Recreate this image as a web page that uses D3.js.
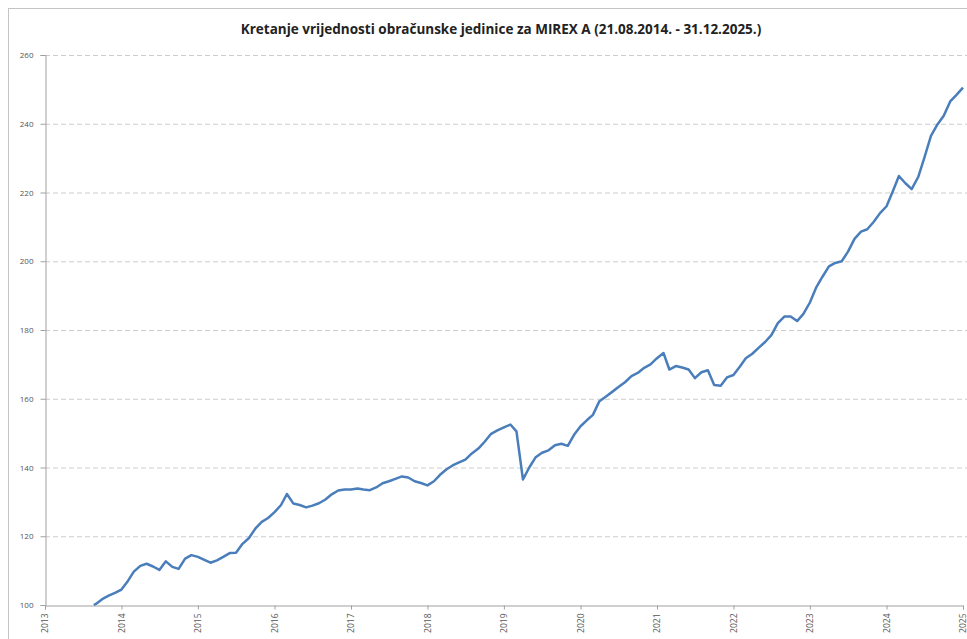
<!DOCTYPE html>
<html><head><meta charset="utf-8">
<script src="https://cdn.jsdelivr.net/npm/d3@7"></script>
<style>body{margin:0;background:#fff}svg{display:block}</style>
</head><body>
<script>
const titleText = "Kretanje vrijednosti obračunske jedinice za MIREX A (21.08.2014. - 31.12.2025.)";
const startDate = "2014-08-21";
const startValue = 100;
// month-end values from 2014-08 through 2025-12
const monthStart = "2014-08";
const values = [
 100.3,101.7,102.7,103.5,104.5,
 107,109.7,111.4,112,111.2,110.2,112.7,111.1,110.5,113.5,114.5,114,
 113.1,112.3,113,114,115.1,115.2,117.8,119.5,122.2,124.2,125.3,127,
 129.1,132.3,129.5,129.1,128.4,128.9,129.6,130.7,132.2,133.3,133.6,133.6,
 133.9,133.6,133.4,134.2,135.4,136,136.7,137.4,137.1,136,135.5,134.8,
 136,137.8,139.4,140.6,141.5,142.3,144.1,145.5,147.5,149.8,150.8,151.7,
 152.5,150.5,136.5,140,143,144.3,145,146.5,146.9,146.3,149.5,152,
 153.8,155.3,159.3,160.6,162,163.4,164.8,166.6,167.5,169,170,171.8,
 173.3,168.5,169.5,169.1,168.5,166,167.7,168.3,164,163.8,166.2,166.9,
 169.4,171.8,173.1,174.8,176.5,178.5,182,183.9,183.9,182.6,184.7,188,
 192.5,195.5,198.5,199.5,200,202.8,206.5,208.6,209.3,211.5,214,216,
 220.5,224.8,222.7,221,224.5,230.2,236.5,239.8,242.3,246.5,248.4,250.5
];
const yTicks = [100,120,140,160,180,200,220,240,260];
const xTickYears = [2013,2014,2015,2016,2017,2018,2019,2020,2021,2022,2023,2024,2025];

const W = 967, H = 639;
const parse = d3.timeParse("%Y-%m-%d");
const m0 = d3.timeParse("%Y-%m")(monthStart);
const data = [{date: parse(startDate), v: startValue}].concat(values.map((v,i) => {
  const d = d3.timeMonth.offset(m0, i+1);
  return {date: d3.timeDay.offset(d, -1), v};
}));

const svg = d3.select("body").append("svg").attr("width", W).attr("height", H);
svg.append("rect").attr("x",8.5).attr("y",8.5).attr("width",1000).attr("height",700)
  .attr("fill","#fff").attr("stroke","#c4c4c4").attr("stroke-width",1);

const x = d3.scaleTime().domain([new Date(2013,11,31), new Date(2025,11,31)]).range([45, 963]);
const y = d3.scaleLinear().domain([100,260]).range([605, 55]);

svg.append("text").attr("x", 501).attr("y", 34).attr("text-anchor","middle")
  .attr("font-family","'Open Sans', sans-serif").attr("font-weight","bold").attr("font-size",13.5)
  .attr("fill","#222").text(titleText);

// grid
svg.append("g").selectAll("line").data(yTicks.filter(t=>t>100)).join("line")
  .attr("x1",45).attr("x2",W).attr("y1",d=>y(d)+0.5).attr("y2",d=>y(d)+0.5)
  .attr("stroke","#cccccc").attr("stroke-dasharray","5,3").attr("stroke-width",1);

// y axis
const ya = svg.append("g").attr("transform","translate(45.5,0)")
  .call(d3.axisLeft(y).tickValues(yTicks).tickSize(5).tickPadding(7));
ya.select(".domain").attr("stroke","#a0a0a0");
ya.selectAll(".tick line").attr("stroke","#a0a0a0");
ya.selectAll("text").attr("font-family","'Open Sans', sans-serif").attr("font-size",8).attr("fill","#555");

// x axis
const xa = svg.append("g").attr("transform","translate(0,605.5)")
  .call(d3.axisBottom(x).tickValues(xTickYears.map(yr=>new Date(yr,11,31))).tickFormat(d=>d.getFullYear()).tickSize(4));
xa.select(".domain").attr("stroke","#a0a0a0");
xa.selectAll(".tick line").attr("stroke","#a0a0a0");
xa.selectAll("text").attr("font-family","'Open Sans', sans-serif").attr("font-size",8.5).attr("fill","#555")
  .attr("transform","rotate(-90)").attr("text-anchor","end").attr("x",-8).attr("y",0).attr("dy","0.32em");

const line = d3.line().x(d=>x(d.date)).y(d=>y(d.v));
svg.append("path").datum(data).attr("d", line).attr("fill","none")
  .attr("stroke","#4a7ebb").attr("stroke-width",2.5).attr("stroke-linejoin","round");
</script>
</body></html>
